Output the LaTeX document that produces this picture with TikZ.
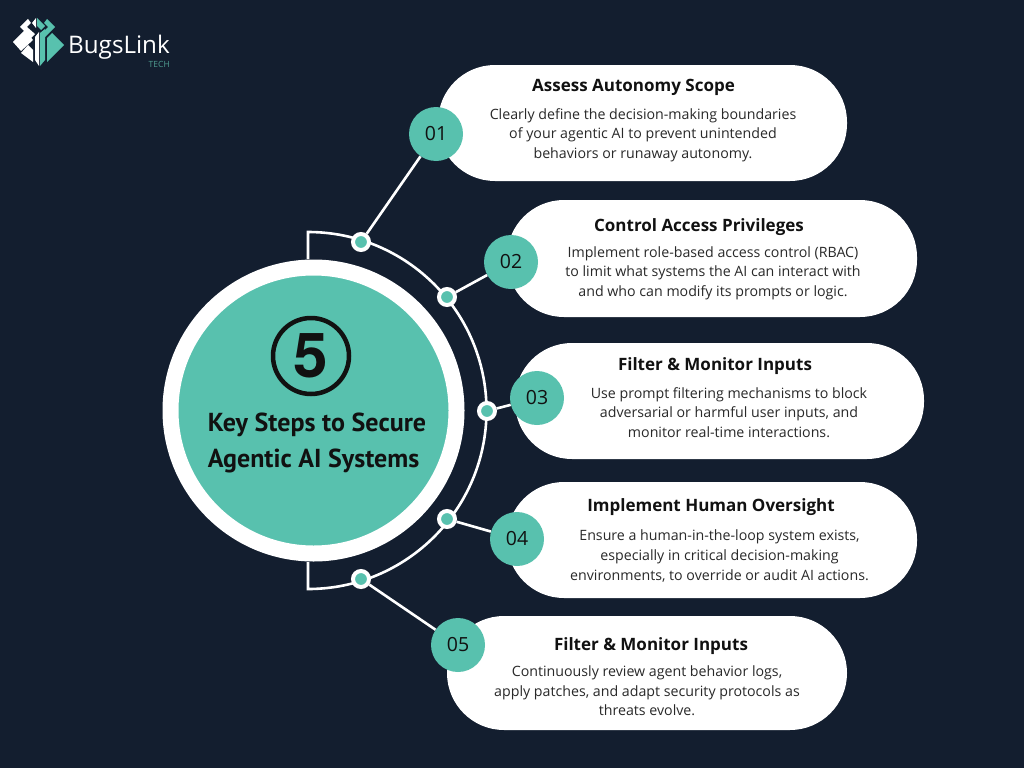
\documentclass[tikz,border=0pt]{standalone}
\usepackage{fontspec}
\setmainfont{Open Sans}
\newfontfamily\centerfont{PT Sans}
\newfontfamily\fivefont{TeX Gyre Heros}
\newfontfamily\logofont{Open Sans}
\definecolor{bg}{HTML}{131E2F}
\definecolor{teal1}{HTML}{58C1AE}
\definecolor{ink}{HTML}{111111}
\definecolor{logotech}{HTML}{4F9C90}
\tikzset{
  pill/.style={fill=white,rounded corners=57pt},
  numdot/.style={circle,fill=teal1,minimum size=54pt,inner sep=0pt,text=ink,font=\fontsize{19.5}{20}\selectfont},
  joint/.style={circle,fill=teal1,draw=white,line width=4pt,minimum size=16pt,inner sep=0pt},
  wire/.style={draw=white,line width=2.6pt},
  headtxt/.style={font=\fontsize{17}{20}\selectfont\bfseries,text=ink,anchor=center},
  bodytxt/.style={font=\fontsize{14.2}{19.6}\selectfont,text=ink!90!white,align=center,anchor=center},
}
\begin{document}
\begin{tikzpicture}[x=1pt,y=-1pt]
\useasboundingbox (0,0) rectangle (1024,768);
\fill[bg] (0,0) rectangle (1024,768);
% logo
\fill[white] (13,42)--(25,30)--(33,40)--(21,51)--cycle;
\fill[white] (21,53)--(28,45)--(33,50)--(33,62)--cycle;
\fill[white] (35,37)--(39,32)--(39,66)--(35,60)--cycle;
\fill[white] (28,19)--(20,27)--(31,38)--(35,34)--(27,27)--(31,23)--cycle;
\fill[white] (36,18)--(32,23)--(36,28)--cycle;
\fill[teal1] (37,18)--(45,26)--(41,30)--(37,26)--cycle;
\fill[teal1] (40,33)--(45,29)--(45,60)--(40,66)--cycle;
\fill[teal1] (47,19)--(55,27)--(44,38)--(41,34)--(48,27)--(44,23)--cycle;
\fill[teal1] (47,38)--(52,33)--(64,45)--(47,62)--cycle;
\node[font=\logofont\fontsize{24.2}{25}\selectfont,text=white,anchor=west,inner sep=0pt] (logo) at (68,47.5) {BugsLink};
\node[font=\logofont\fontsize{8.5}{9}\selectfont,text=logotech,anchor=east,inner sep=0pt] (tech) at (170,64) {TECH};
% wires
\draw[wire] (308,259) -- (308,232) arc[start angle=90,end angle=-90,radius=178.5pt] -- (308,562);
% central
\node[circle,fill=teal1,draw=white,line width=16pt,minimum size=286pt,inner sep=0pt] (hub) at (313.5,410.5) {};
\node[circle,draw=ink,line width=4.5pt,minimum size=76pt,inner sep=0pt,font=\fivefont\fontsize{62}{62}\selectfont\bfseries,text=ink] (five) at (311,356) {5};
\node[font=\centerfont\fontsize{26}{36.5}\selectfont\bfseries,text=ink,align=left,anchor=center] (hubtxt) at (317,443) {Key Steps to Secure\\Agentic AI Systems};
% pills
\fill[pill] (438,65) rectangle (847,181);
\fill[pill] (507,200) rectangle (917,317);
\fill[pill] (515,343) rectangle (924,459);
\fill[pill] (507,482) rectangle (917,598);
\fill[pill] (447,616) rectangle (847,730);
% joints and number dots
\node[joint] (j1) at (361,242) {};
\node[joint] (j2) at (447,297) {};
\node[joint] (j3) at (487,411) {};
\node[joint] (j4) at (447,519) {};
\node[joint] (j5) at (361,579) {};
\node[numdot] (n1) at (436,134) {01};
\node[numdot] (n2) at (511,262) {02};
\node[numdot] (n3) at (537,398) {03};
\node[numdot] (n4) at (517,539) {04};
\node[numdot] (n5) at (458,645) {05};
\draw[wire] (j1) -- (n1);
\draw[wire] (j2) -- (n2);
\draw[wire] (j3) -- (n3);
\draw[wire] (j4) -- (n4);
\draw[wire] (j5) -- (n5);
% text
\node[headtxt] (h1) at (633.5,87.5) {Assess Autonomy Scope};
\node[bodytxt] (b1) at (643,135) {Clearly define the decision-making boundaries\\of your agentic AI to prevent unintended\\behaviors or runaway autonomy.};
\node[headtxt] (h2) at (699,227) {Control Access Privileges};
\node[bodytxt] (b2) at (713,273) {Implement role-based access control (RBAC)\\to limit what systems the AI can interact with\\and who can modify its prompts or logic.};
\node[headtxt] (h3) at (715,366) {Filter \& Monitor Inputs};
\node[bodytxt] (b3) at (729,412.5) {Use prompt filtering mechanisms to block\\adversarial or harmful user inputs, and\\monitor real-time interactions.};
\node[headtxt] (h4) at (711,507) {Implement Human Oversight};
\node[bodytxt] (b4) at (719.5,556) {Ensure a human-in-the-loop system exists,\\especially in critical decision-making\\environments, to override or audit AI actions.};
\node[headtxt] (h5) at (651,646) {Filter \& Monitor Inputs};
\node[bodytxt] (b5) at (647,691) {Continuously review agent behavior logs,\\apply patches, and adapt security protocols as\\threats evolve.};
\end{tikzpicture}
\end{document}
